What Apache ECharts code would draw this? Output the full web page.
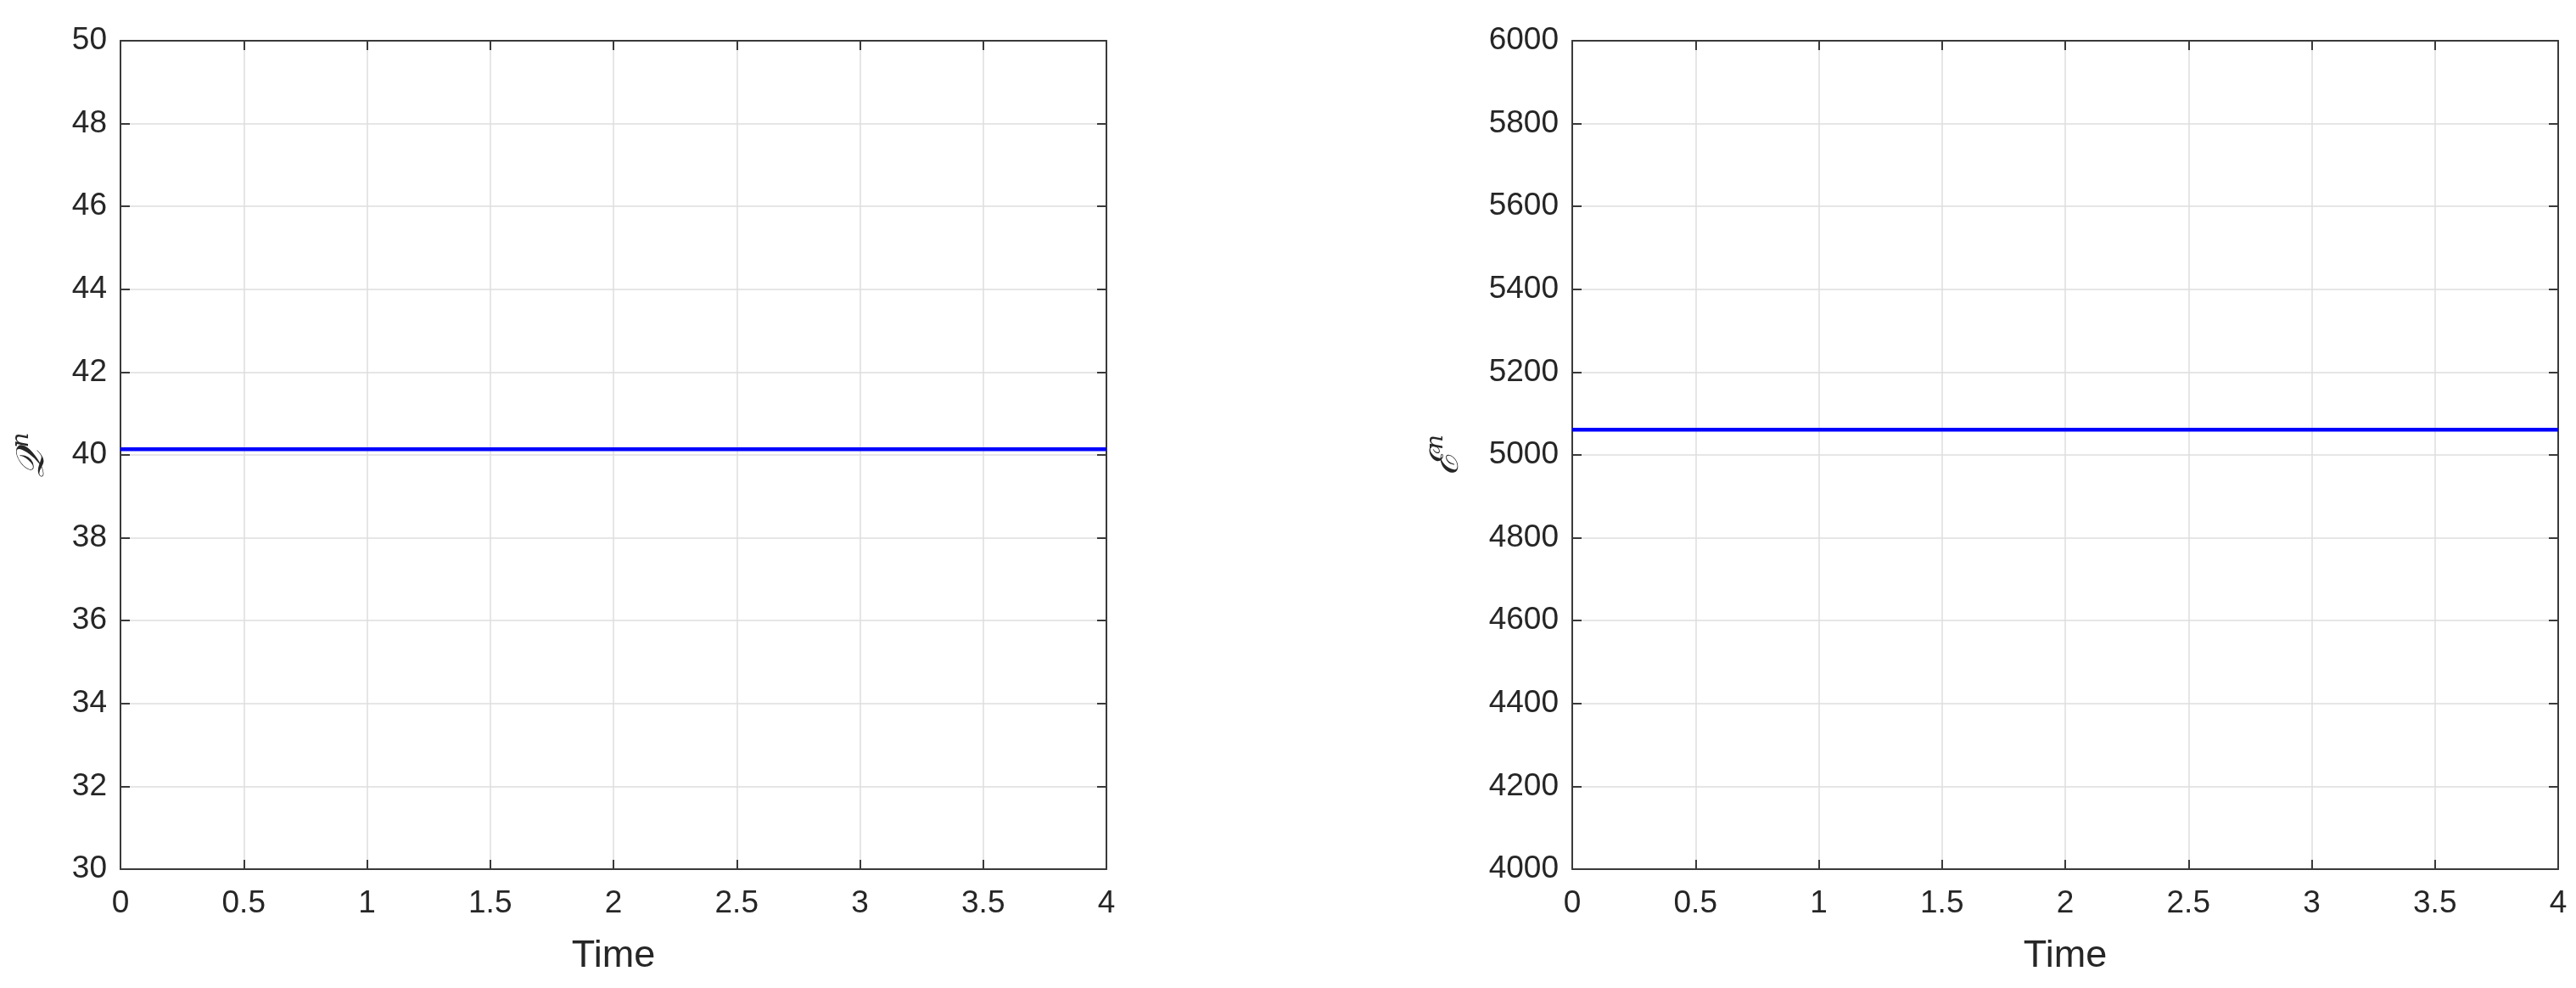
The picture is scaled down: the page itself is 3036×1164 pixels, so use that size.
<!DOCTYPE html>
<html>
<head>
<meta charset="utf-8">
<script src="https://cdn.jsdelivr.net/npm/echarts@6/dist/echarts.min.js"></script>
<style>html,body{margin:0;padding:0;background:#fff;}#c{width:3036px;height:1164px;}</style>
</head>
<body>
<div id="c"></div>
<script>
// Data
var timeValues = [0, 0.5, 1, 1.5, 2, 2.5, 3, 3.5, 4];
var qValues = [40.14, 40.14, 40.14, 40.14, 40.14, 40.14, 40.14, 40.14, 40.14];
var eValues = [5061, 5061, 5061, 5061, 5061, 5061, 5061, 5061, 5061];
var xLabel = 'Time';
var qLabel = '𝒬';
var eLabel = 'ℰ';

var chart = echarts.init(document.getElementById('c'));
var FONT = 'Liberation Sans, Arial, Helvetica, sans-serif';
var AX = '#3a3a3a';
var TXT = '#262626';
var GRIDC = '#dedede';
function plain(v) { return String(v); }

function pair(arr) { return timeValues.map(function (t, i) { return [t, arr[i]]; }); }

function xMain(gi) {
  return {
    type: 'value', gridIndex: gi, min: 0, max: 4, interval: 0.5, position: 'bottom',
    name: xLabel, nameLocation: 'middle', nameGap: 80,
    nameTextStyle: { fontFamily: FONT, fontSize: 45, color: TXT },
    axisLine: { show: true, onZero: false, lineStyle: { color: AX, width: 2 } },
    axisTick: { show: true, inside: true, length: 11, lineStyle: { color: AX, width: 2 } },
    axisLabel: { show: true, margin: 22, fontFamily: FONT, fontSize: 37, color: TXT, formatter: plain },
    splitLine: { show: true, lineStyle: { color: GRIDC, width: 1.5 } }
  };
}
function xTop(gi) {
  return {
    type: 'value', gridIndex: gi, min: 0, max: 4, interval: 0.5, position: 'top',
    axisLine: { show: true, onZero: false, lineStyle: { color: AX, width: 2 } },
    axisTick: { show: true, inside: true, length: 11, lineStyle: { color: AX, width: 2 } },
    axisLabel: { show: false }, splitLine: { show: false }
  };
}
function yMain(gi, min, max, iv, nameRich, gap) {
  return {
    type: 'value', gridIndex: gi, min: min, max: max, interval: iv, position: 'left',
    name: nameRich, nameLocation: 'middle', nameRotate: 90, nameGap: gap,
    nameTextStyle: {
      rich: {
        a: { fontFamily: 'DejaVu Serif', fontStyle: 'italic', fontSize: 46, color: TXT },
        b: { fontFamily: 'DejaVu Serif', fontStyle: 'italic', fontSize: 28, color: TXT, verticalAlign: 'top', padding: [0, 0, 26, 2] }
      }
    },
    axisLine: { show: true, onZero: false, lineStyle: { color: AX, width: 2 } },
    axisTick: { show: true, inside: true, length: 11, lineStyle: { color: AX, width: 2 } },
    axisLabel: { show: true, margin: 16, fontFamily: FONT, fontSize: 37, color: TXT, formatter: plain },
    splitLine: { show: true, lineStyle: { color: GRIDC, width: 1.5 } }
  };
}
function yRight(gi, min, max, iv) {
  return {
    type: 'value', gridIndex: gi, min: min, max: max, interval: iv, position: 'right',
    axisLine: { show: true, onZero: false, lineStyle: { color: AX, width: 2 } },
    axisTick: { show: true, inside: true, length: 11, lineStyle: { color: AX, width: 2 } },
    axisLabel: { show: false }, splitLine: { show: false }
  };
}

var option = {
  backgroundColor: '#ffffff',
  animation: false,
  grid: [
    { left: 142, top: 48, width: 1162, height: 976 },
    { left: 1853, top: 48, width: 1162, height: 976 }
  ],
  xAxis: [xMain(0), xTop(0), xMain(1), xTop(1)],
  yAxis: [
    yMain(0, 30, 50, 2, '{a|' + qLabel + '}{b|n}', 76),
    yRight(0, 30, 50, 2),
    yMain(1, 4000, 6000, 200, '{a|' + eLabel + '}{b|n}', 120),
    yRight(1, 4000, 6000, 200)
  ],
  series: [
    { type: 'line', xAxisIndex: 0, yAxisIndex: 0, data: pair(qValues), showSymbol: false,
      lineStyle: { color: '#0000ff', width: 4.5 }, z: 5 },
    { type: 'line', xAxisIndex: 2, yAxisIndex: 2, data: pair(eValues), showSymbol: false,
      lineStyle: { color: '#0000ff', width: 4.5 }, z: 5 }
  ]
};
chart.setOption(option);
</script>
</body>
</html>
